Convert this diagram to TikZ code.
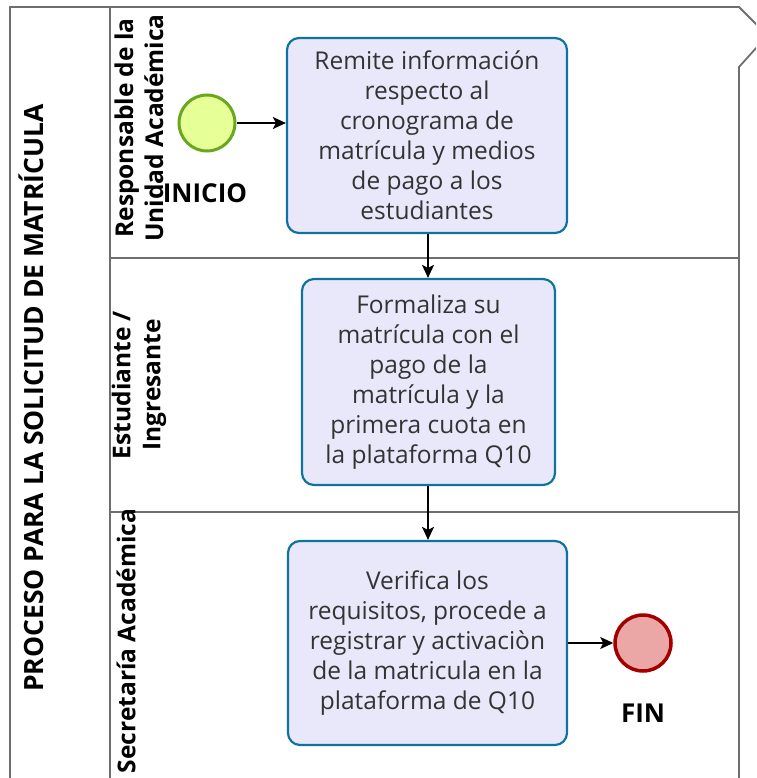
\documentclass[tikz,border=0pt]{standalone}
\usepackage{fontspec}
\setmainfont{Open Sans}
\usetikzlibrary{arrows.meta}
\definecolor{poolline}{HTML}{6E6E6E}
\definecolor{taskfill}{HTML}{E8E8FA}
\definecolor{taskline}{HTML}{10739E}
\definecolor{startfill}{HTML}{E6FF97}
\definecolor{startline}{HTML}{6AA71F}
\definecolor{endfill}{HTML}{EBA6A6}
\definecolor{endline}{HTML}{A20000}
\definecolor{txt}{HTML}{333333}
\tikzset{
  pool/.style={draw=poolline, line width=1.8pt},
  lanelabel/.style={rotate=90, font=\bfseries\fontsize{24.5}{30}\selectfont, align=center, text=black, inner sep=0pt},
  task/.style={draw=taskline, fill=taskfill, line width=2.2pt, rounded corners=12pt, align=center,
    font=\fontsize{24.5}{30}\selectfont, text=txt, inner sep=0pt},
  evstart/.style={circle, draw=startline, fill=startfill, line width=3pt, minimum size=56pt, inner sep=0pt},
  evend/.style={circle, draw=endline, fill=endfill, line width=3.5pt, minimum size=56pt, inner sep=0pt},
  evlabel/.style={font=\bfseries\fontsize{26}{30}\selectfont, text=black, inner sep=0pt},
  flow/.style={draw=black, line width=1.5pt, -{Stealth[length=13pt,width=12pt,inset=3pt]}}
}
\begin{document}
\begin{tikzpicture}[x=1pt,y=-1pt]
\useasboundingbox (0,0) rectangle (756,778);
\clip (0,0) rectangle (756,778);
% pool outline
\draw[pool] (10,800) -- (10,7) -- (739,7) -- (757,25);
\draw[pool] (757,47) -- (739,67) -- (739,800);
\draw[pool] (110,7) -- (110,800);
\draw[pool] (110,258) -- (739,258);
\draw[pool] (110,512) -- (739,512);
% labels
\node[lanelabel, font=\bfseries\fontsize{26.5}{30}\selectfont] (poolname) at (31,398) {PROCESO PARA LA SOLICITUD DE MATRÍCULA};
\node[lanelabel] (lane1) at (139,128) {Responsable de la\\Unidad Académica};
\node[lanelabel] (lane2) at (139,385) {Estudiante /\\Ingresante};
\node[lanelabel] (lane3) at (126,641) {Secretaría Académica};
% events
\node[evstart] (start) at (207,123) {};
\node[evlabel] (startlbl) at (205,193) {INICIO};
\node[evend] (end) at (643,643) {};
\node[evlabel] (endlbl) at (643,713) {FIN};
% tasks
\node[task, minimum width=280pt, minimum height=195pt] (t1) at (427,135.5)
  {Remite información\\respecto al\\cronograma de\\matrícula y medios\\de pago a los\\estudiantes};
\node[task, minimum width=253pt, minimum height=206pt] (t2) at (428.5,382)
  {Formaliza su\\matrícula con el\\pago de la\\matrícula y la\\primera cuota en\\la plataforma Q10};
\node[task, minimum width=279pt, minimum height=204pt] (t3) at (427.5,643)
  {Verifica los\\requisitos, procede a\\registrar y activaciòn\\de la matricula en la\\plataforma de Q10};
% flows
\draw[flow] (start) -- (start -| t1.west);
\draw[flow] (t1.south -| 428,0) -- (t2.north -| 428,0);
\draw[flow] (t2.south -| 428,0) -- (t3.north -| 428,0);
\draw[flow] (t3.east |- end) -- (end);
\end{tikzpicture}
\end{document}
